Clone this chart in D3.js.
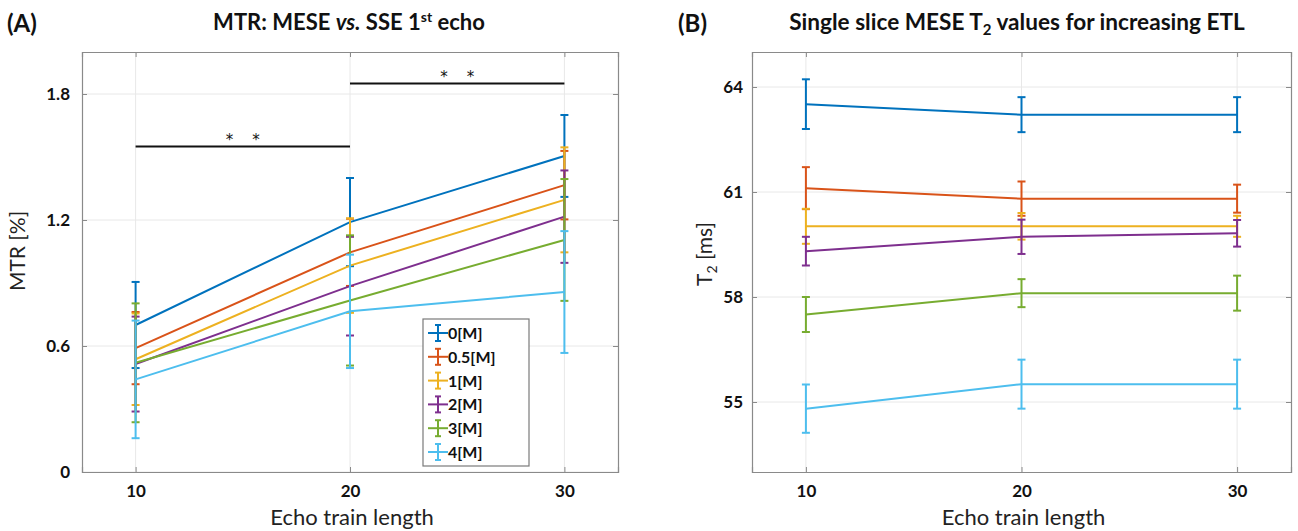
<!DOCTYPE html>
<html>
<head>
<meta charset="utf-8">
<script src="https://cdn.jsdelivr.net/npm/d3@7"></script>
<style>
  html, body { margin: 0; padding: 0; background: #ffffff; }
  svg { display: block; font-family: Lato, "Open Sans", sans-serif; }
</style>
</head>
<body>
<svg id="fig" width="1298" height="531"></svg>
<script>
// Echo train lengths (x positions shared by both panels)
const etl = [10, 20, 30];

// Series names and MATLAB default colours
const seriesNames = ["0[M]", "0.5[M]", "1[M]", "2[M]", "3[M]", "4[M]"];
const seriesColors = ["#0072BD", "#D95319", "#EDB120", "#7E2F8E", "#77AC30", "#4DBEEE"];

// Panel A: MTR [%] mean and error per series, at ETL 10 / 20 / 30
const mtrMean = [
  [0.70, 1.19, 1.505],
  [0.59, 1.046, 1.366],
  [0.537, 0.983, 1.296],
  [0.514, 0.885, 1.216],
  [0.52, 0.817, 1.105],
  [0.441, 0.765, 0.857]
];
const mtrErr = [
  [0.205, 0.21, 0.195],
  [0.172, 0.16, 0.163],
  [0.218, 0.225, 0.25],
  [0.226, 0.235, 0.22],
  [0.283, 0.31, 0.29],
  [0.28, 0.27, 0.29]
];
const mtrTicks = [0, 0.6, 1.2, 1.8];

// Significance brackets in panel A
const sigFrom = [10, 20];
const sigTo = [20, 30];
const sigLevel = [1.55, 1.85];
const sigLabel = ["*    *", "*    *"];

// Panel B: T2 [ms] mean and error per series, at ETL 10 / 20 / 30
const t2Mean = [
  [63.51, 63.21, 63.21],
  [61.11, 60.81, 60.81],
  [60.02, 60.02, 60.02],
  [59.31, 59.72, 59.82],
  [57.50, 58.11, 58.11],
  [54.81, 55.51, 55.51]
];
const t2Err = [
  [0.71, 0.50, 0.50],
  [0.60, 0.49, 0.40],
  [0.50, 0.38, 0.30],
  [0.41, 0.49, 0.38],
  [0.50, 0.40, 0.50],
  [0.69, 0.70, 0.70]
];
const t2Ticks = [55, 58, 61, 64];

const svg = d3.select("#fig");
const boxColor = "#8a8a8a";
const gridColor = "#e8e8e8";

function drawPanel(opt) {
  const x = d3.scaleLinear().domain([7.5, 32.5]).range([opt.left, opt.right]);
  const y = d3.scaleLinear().domain(opt.yDomain).range([opt.bottom, opt.top]);
  const g = svg.append("g");

  // grid
  g.append("g").selectAll("line").data(etl).join("line")
    .attr("x1", d => x(d)).attr("x2", d => x(d))
    .attr("y1", opt.top).attr("y2", opt.bottom)
    .attr("stroke", gridColor).attr("stroke-width", 1);
  g.append("g").selectAll("line").data(opt.yTicks).join("line")
    .attr("x1", opt.left).attr("x2", opt.right)
    .attr("y1", d => y(d)).attr("y2", d => y(d))
    .attr("stroke", gridColor).attr("stroke-width", 1);

  // axes: ticks point inward on all four sides
  const axB = g.append("g").attr("transform", `translate(0,${opt.bottom})`)
    .call(d3.axisBottom(x).tickValues(etl).tickSize(-5).tickPadding(13).tickFormat(d3.format("d")));
  const axT = g.append("g").attr("transform", `translate(0,${opt.top})`)
    .call(d3.axisTop(x).tickValues(etl).tickSize(-5).tickFormat(""));
  const axL = g.append("g").attr("transform", `translate(${opt.left},0)`)
    .call(d3.axisLeft(y).tickValues(opt.yTicks).tickSize(-5).tickPadding(opt.yPad).tickFormat(opt.fmt));
  const axR = g.append("g").attr("transform", `translate(${opt.right},0)`)
    .call(d3.axisRight(y).tickValues(opt.yTicks).tickSize(-5).tickFormat(""));
  [axB, axT, axL, axR].forEach(a => {
    a.select(".domain").attr("stroke", boxColor).attr("stroke-width", 1.2);
    a.selectAll(".tick line").attr("stroke", boxColor).attr("stroke-width", 1);
    a.selectAll(".tick text").attr("fill", "#111").attr("font-size", 17)
      .attr("font-weight", "bold").attr("font-family", "Lato, sans-serif");
  });

  // series: error bars then mean line, in order
  opt.means.forEach((m, si) => {
    const col = seriesColors[si];
    const sg = g.append("g");
    const pts = etl.map((e, i) => ({ x: e, m: m[i], err: opt.errs[si][i] }));
    sg.append("g").selectAll("line").data(pts).join("line")
      .attr("x1", d => x(d.x)).attr("x2", d => x(d.x))
      .attr("y1", d => y(d.m - d.err)).attr("y2", d => y(d.m + d.err))
      .attr("stroke", col).attr("stroke-width", 2);
    [1, -1].forEach(sgn => {
      sg.append("g").selectAll("line").data(pts).join("line")
        .attr("x1", d => x(d.x) - opt.cap).attr("x2", d => x(d.x) + opt.cap)
        .attr("y1", d => y(d.m + sgn * d.err)).attr("y2", d => y(d.m + sgn * d.err))
        .attr("stroke", col).attr("stroke-width", 2);
    });
    sg.append("path").datum(pts)
      .attr("d", d3.line().x(d => x(d.x)).y(d => y(d.m)))
      .attr("fill", "none").attr("stroke", col).attr("stroke-width", 2);
  });

  // panel letter and title
  svg.append("text").attr("x", opt.letterX).attr("y", 32)
    .attr("font-size", 24).attr("font-weight", "bold").attr("fill", "#111")
    .text(opt.letter);
  const t = svg.append("text").attr("x", opt.titleX).attr("y", 30)
    .attr("text-anchor", "middle").attr("font-size", opt.titleSize).attr("font-weight", "bold").attr("fill", "#111");
  opt.title(t);

  // axis labels
  svg.append("text").attr("x", (opt.left + opt.right) / 2 + 2).attr("y", 525)
    .attr("text-anchor", "middle").attr("font-size", 22).attr("fill", "#222")
    .text("Echo train length");
  const yl = svg.append("text")
    .attr("transform", `translate(${opt.yLabelX},${opt.yLabelY}) rotate(-90)`)
    .attr("text-anchor", "middle").attr("font-size", 21).attr("fill", "#222");
  opt.yLabel(yl);

  return { x, y, g };
}

// Panel A
const A = drawPanel({
  left: 82, right: 618, top: 52, bottom: 472,
  yDomain: [0, 2], yTicks: mtrTicks, fmt: d => d === 0 ? "0" : d3.format(".1f")(d), yPad: 12,
  means: mtrMean, errs: mtrErr, cap: 4,
  letter: "(A)", letterX: 7, titleX: 349, titleSize: 22,
  title: t => {
    t.append("tspan").text("MTR: MESE ");
    t.append("tspan").attr("font-style", "italic").text("vs.");
    t.append("tspan").text(" SSE 1");
    t.append("tspan").attr("font-size", 14).attr("dy", -8).text("st");
    t.append("tspan").attr("dy", 8).text(" echo");
  },
  yLabelX: 25, yLabelY: 251,
  yLabel: t => t.text("MTR [%]")
});

// significance brackets
const sig = sigFrom.map((f, i) => ({ f, t: sigTo[i], v: sigLevel[i], s: sigLabel[i] }));
A.g.append("g").selectAll("line").data(sig).join("line")
  .attr("x1", d => A.x(d.f)).attr("x2", d => A.x(d.t))
  .attr("y1", d => A.y(d.v)).attr("y2", d => A.y(d.v))
  .attr("stroke", "#111").attr("stroke-width", 2);
A.g.append("g").selectAll("text").data(sig).join("text")
  .attr("x", d => A.x((d.f + d.t) / 2)).attr("y", d => A.y(d.v) - 2)
  .attr("text-anchor", "middle").attr("font-size", 15)
  .attr("font-family", "'DejaVu Sans', sans-serif").attr("fill", "#111")
  .attr("xml:space", "preserve").style("white-space", "pre")
  .text(d => d.s);

// legend
const lg = A.g.append("g");
const lgX = 423, lgY = 319, lgW = 106, lgH = 147;
lg.append("rect").attr("x", lgX).attr("y", lgY).attr("width", lgW).attr("height", lgH)
  .attr("fill", "#fff").attr("stroke", "#7a7a7a").attr("stroke-width", 1.2);
seriesNames.forEach((name, i) => {
  const cy = lgY + 14 + i * 23.8, cx = lgX + 15, col = seriesColors[i];
  lg.append("line").attr("x1", cx - 10).attr("x2", cx + 10).attr("y1", cy).attr("y2", cy)
    .attr("stroke", col).attr("stroke-width", 2);
  lg.append("line").attr("x1", cx).attr("x2", cx).attr("y1", cy - 8).attr("y2", cy + 8)
    .attr("stroke", col).attr("stroke-width", 2);
  [-8, 8].forEach(o => lg.append("line").attr("x1", cx - 3).attr("x2", cx + 3)
    .attr("y1", cy + o).attr("y2", cy + o).attr("stroke", col).attr("stroke-width", 2));
  lg.append("text").attr("x", cx + 10).attr("y", cy + 6)
    .attr("font-size", 16).attr("font-weight", "bold").attr("fill", "#111").text(name);
});

// Panel B
drawPanel({
  left: 752, right: 1291, top: 52, bottom: 472,
  yDomain: [53, 65], yTicks: t2Ticks, fmt: d3.format("d"), yPad: 9,
  means: t2Mean, errs: t2Err, cap: 4,
  letter: "(B)", letterX: 678, titleX: 1017, titleSize: 22.6,
  title: t => {
    t.append("tspan").text("Single slice MESE T");
    t.append("tspan").attr("font-size", 15).attr("dy", 5).text("2");
    t.append("tspan").attr("dy", -5).text(" values for increasing ETL");
  },
  yLabelX: 712, yLabelY: 254,
  yLabel: t => {
    t.append("tspan").text("T");
    t.append("tspan").attr("font-size", 14).attr("dy", 5).text("2");
    t.append("tspan").attr("dy", -5).text(" [ms]");
  }
});
</script>
</body>
</html>
